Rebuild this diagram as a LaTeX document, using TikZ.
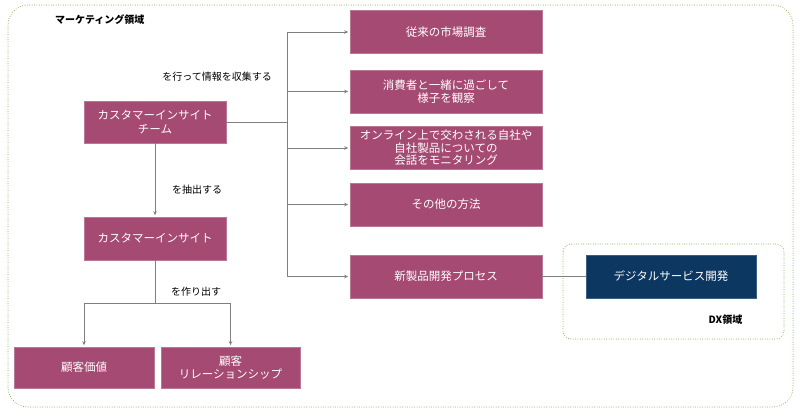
\documentclass[tikz,border=0pt]{standalone}
\usepackage{fontspec}
\setmainfont{Noto Sans CJK JP}
\usetikzlibrary{arrows.meta}
\definecolor{plum}{HTML}{A54A73}
\definecolor{navy}{HTML}{0B3760}
\definecolor{dgreen}{HTML}{79A852}
\definecolor{lgray}{HTML}{7F7F7F}
\begin{document}
\begin{tikzpicture}[x=1pt,y=-1pt,
  box/.style={fill=plum,draw=plum!75!white,line width=0.6pt,text=white,
    font=\fontsize{11.5}{13.5}\selectfont,align=center,inner sep=0pt},
  rbox/.style={box,minimum width=192pt,minimum height=43pt},
  lbox/.style={box,minimum width=142pt,minimum height=42pt},
  nbox/.style={box,fill=navy,draw=navy!80!white,minimum width=170pt,minimum height=43pt},
  line/.style={draw=lgray,line width=0.9pt},
  arr/.style={line,-{Stealth[length=4pt,width=3.5pt]},shorten >=1.5pt},
  lab/.style={font=\fontsize{10}{12}\selectfont,inner sep=0pt},
  ttl/.style={font=\fontsize{10}{12}\selectfont\bfseries,inner sep=0pt},
  region/.style={draw=dgreen,line width=1pt,line cap=round,dash pattern=on 0pt off 2.4pt}]
\useasboundingbox (0,0) rectangle (800,418);
\draw[region,rounded corners=20pt] (8,5) rectangle (793,407);
\draw[region,rounded corners=8pt] (563,244) rectangle (784,339);
\node[ttl,anchor=west] (mtitle) at (55,20) {マーケティング領域};
\node[ttl] (dxtitle) at (725.5,320) {DX領域};

\node[lbox] (team) at (155,122) {カスタマーインサイト\\チーム};
\node[lbox,minimum height=43pt] (ci) at (155,238.5) {カスタマーインサイト};
\node[box,minimum width=140pt,minimum height=41pt] (v1) at (84,367.5) {顧客価値};
\node[box,minimum width=139pt,minimum height=41pt] (v2) at (230.5,367.5) {顧客\\リレーションシップ};

\node[rbox] (r1) at (446,32) {従来の市場調査};
\node[rbox] (r2) at (446,91.5) {消費者と一緒に過ごして\\様子を観察};
\node[rbox,font=\fontsize{11.5}{12.5}\selectfont] (r3) at (446,148) {オンライン上で交わされる自社や\\自社製品についての\\会話をモニタリング};
\node[rbox] (r4) at (446,204.5) {その他の方法};
\node[rbox] (r5) at (446,276.5) {新製品開発プロセス};
\node[nbox] (dx) at (671,276.5) {デジタルサービス開発};

\coordinate (tmid) at (287,122);
\coordinate (split) at (155,303);

\draw[line] (team.east) -- (tmid);
\foreach \r in {r1,r2,r3,r4,r5}{\draw[arr] (tmid) |- (\r.west);}
\draw[arr] (team.south) -- (ci.north);
\draw[line] (ci.south) -- (split);
\draw[arr] (split) -| (v1.north);
\draw[arr] (split) -| (v2.north);
\draw[line] (r5.east) -- (dx.west);

\node[lab] (l1) at (217,77) {を行って情報を収集する};
\node[lab] (l2) at (197,190) {を抽出する};
\node[lab] (l3) at (196,292) {を作り出す};
\end{tikzpicture}
\end{document}
